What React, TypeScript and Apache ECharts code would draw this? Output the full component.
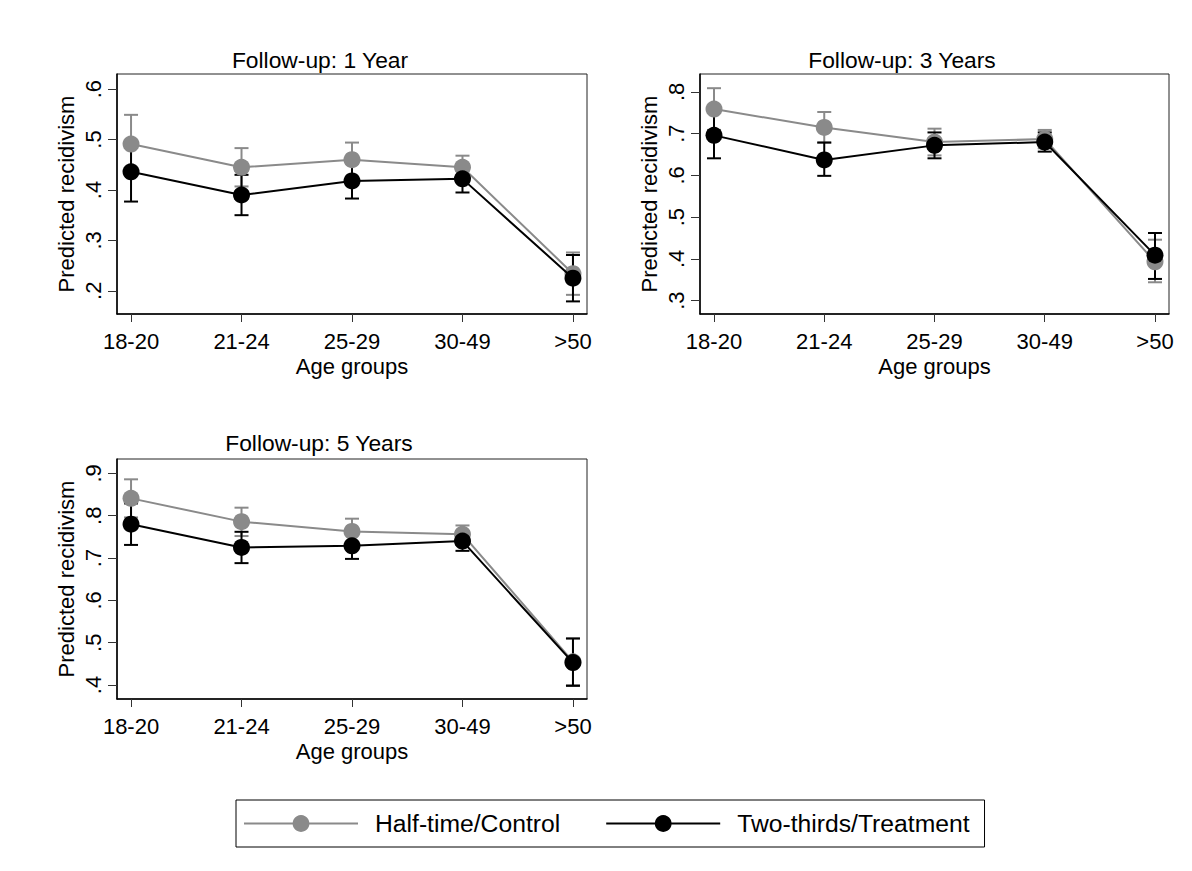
import React, { useEffect, useRef } from "react";
import * as echarts from "echarts";

const CATEGORIES = ["18-20", "21-24", "25-29", "30-49", ">50"];
const PANEL_TITLES = ["Follow-up: 1 Year", "Follow-up: 3 Years", "Follow-up: 5 Years"];
const SERIES_NAMES = ["Half-time/Control", "Two-thirds/Treatment"];

// Panel 1: 1 year
const Y1_TICKS = [0.2, 0.3, 0.4, 0.5, 0.6];
const P1_CONTROL = [0.491, 0.445, 0.46, 0.445, 0.234];
const P1_CONTROL_LO = [0.433, 0.407, 0.426, 0.422, 0.192];
const P1_CONTROL_HI = [0.549, 0.483, 0.494, 0.468, 0.276];
const P1_TREAT = [0.436, 0.39, 0.418, 0.422, 0.225];
const P1_TREAT_LO = [0.377, 0.35, 0.383, 0.395, 0.179];
const P1_TREAT_HI = [0.495, 0.43, 0.453, 0.449, 0.271];

// Panel 2: 3 years
const Y2_TICKS = [0.3, 0.4, 0.5, 0.6, 0.7, 0.8];
const P2_CONTROL = [0.759, 0.715, 0.68, 0.687, 0.393];
const P2_CONTROL_LO = [0.709, 0.678, 0.648, 0.665, 0.344];
const P2_CONTROL_HI = [0.809, 0.752, 0.712, 0.709, 0.446];
const P2_TREAT = [0.696, 0.637, 0.672, 0.68, 0.409];
const P2_TREAT_LO = [0.641, 0.599, 0.641, 0.657, 0.352];
const P2_TREAT_HI = [0.751, 0.679, 0.703, 0.703, 0.462];

// Panel 3: 5 years
const Y3_TICKS = [0.4, 0.5, 0.6, 0.7, 0.8, 0.9];
const P3_CONTROL = [0.841, 0.786, 0.763, 0.756, 0.455];
const P3_CONTROL_LO = [0.796, 0.752, 0.733, 0.735, 0.4];
const P3_CONTROL_HI = [0.886, 0.819, 0.793, 0.777, 0.51];
const P3_TREAT = [0.78, 0.725, 0.729, 0.74, 0.453];
const P3_TREAT_LO = [0.731, 0.688, 0.698, 0.717, 0.398];
const P3_TREAT_HI = [0.829, 0.762, 0.76, 0.763, 0.51];

const FONT = "'Liberation Sans', Arial, Helvetica, sans-serif";
const GRAY = "#8a8a8a";
const BLACK = "#000000";

const PANELS = [
  {
    ticks: Y1_TICKS, yMin: 0.154, yMax: 0.63,
    control: [P1_CONTROL, P1_CONTROL_LO, P1_CONTROL_HI],
    treat: [P1_TREAT, P1_TREAT_LO, P1_TREAT_HI],
    grid: { left: 117, top: 74, width: 470, height: 240 },
    titleX: 320, titleY: 48,
  },
  {
    ticks: Y2_TICKS, yMin: 0.268, yMax: 0.843,
    control: [P2_CONTROL, P2_CONTROL_LO, P2_CONTROL_HI],
    treat: [P2_TREAT, P2_TREAT_LO, P2_TREAT_HI],
    grid: { left: 700, top: 74, width: 469, height: 240 },
    titleX: 902, titleY: 48,
  },
  {
    ticks: Y3_TICKS, yMin: 0.367, yMax: 0.934,
    control: [P3_CONTROL, P3_CONTROL_LO, P3_CONTROL_HI],
    treat: [P3_TREAT, P3_TREAT_LO, P3_TREAT_HI],
    grid: { left: 117, top: 459, width: 470, height: 240 },
    titleX: 319, titleY: 431,
  },
];

function errorBarRender(color: string) {
  return (params: any, api: any) => {
    const x = api.value(0);
    const lo = api.coord([x, api.value(1)]);
    const hi = api.coord([x, api.value(2)]);
    const half = 7;
    const style = { stroke: color, lineWidth: 2 };
    return {
      type: "group",
      children: [
        { type: "line", shape: { x1: lo[0], y1: lo[1], x2: hi[0], y2: hi[1] }, style },
        { type: "line", shape: { x1: lo[0] - half, y1: lo[1], x2: lo[0] + half, y2: lo[1] }, style },
        { type: "line", shape: { x1: hi[0] - half, y1: hi[1], x2: hi[0] + half, y2: hi[1] }, style },
      ],
    };
  };
}

export default function App() {
  const ref = useRef<HTMLDivElement>(null);

  useEffect(() => {
    if (!ref.current) return;
    const chart = echarts.init(ref.current, undefined, { renderer: "svg" });

    const grids: any[] = [];
    const xAxes: any[] = [];
    const yAxes: any[] = [];
    const series: any[] = [];
    const titles: any[] = [];
    const catIdx = CATEGORIES.map((_, i) => i);

    PANELS.forEach((p, k) => {
      grids.push({
        ...p.grid,
        show: true,
        borderColor: "#222",
        borderWidth: 1,
        backgroundColor: "#fff",
      });
      xAxes.push({
        type: "value",
        gridIndex: k,
        min: -0.127,
        max: 4.127,
        name: "Age groups",
        nameLocation: "middle",
        nameGap: 41,
        nameTextStyle: { fontFamily: FONT, fontSize: 22, color: "#000", verticalAlign: "top" },
        axisLine: { show: true, onZero: false, lineStyle: { color: "#000", width: 1.5 } },
        axisTick: { show: true, length: 8, customValues: catIdx, lineStyle: { color: "#333", width: 1 } },
        axisLabel: {
          show: true,
          customValues: catIdx,
          formatter: (v: number) => CATEGORIES[Math.round(v)],
          margin: 16,
          fontFamily: FONT,
          fontSize: 22,
          color: "#000",
        },
        splitLine: { show: false },
      });
      yAxes.push({
        type: "value",
        gridIndex: k,
        min: p.yMin,
        max: p.yMax,
        name: "Predicted recidivism",
        nameLocation: "middle",
        nameGap: 40,
        nameRotate: 90,
        nameTextStyle: { fontFamily: FONT, fontSize: 22, color: "#000" },
        axisLine: { show: true, onZero: false, lineStyle: { color: "#000", width: 1.5 } },
        axisTick: { show: true, length: 9, customValues: p.ticks, lineStyle: { color: "#333", width: 1 } },
        axisLabel: {
          show: true,
          customValues: p.ticks,
          rotate: 90,
          margin: 13,
          formatter: (v: number) => v.toFixed(1).replace(/^0/, ""),
          fontFamily: FONT,
          fontSize: 22,
          color: "#000",
        },
        splitLine: { show: false },
      });
      titles.push({
        text: PANEL_TITLES[k],
        left: p.titleX,
        top: p.titleY,
        textAlign: "center",
        padding: 0,
        textStyle: { fontFamily: FONT, fontSize: 22.8, fontWeight: "normal", color: "#000" },
      });

      const groups = [
        { name: SERIES_NAMES[0], color: GRAY, d: p.control, z: 3 },
        { name: SERIES_NAMES[1], color: BLACK, d: p.treat, z: 4 },
      ];
      groups.forEach((g) => {
        series.push({
          type: "custom",
          name: g.name + " CI",
          xAxisIndex: k,
          yAxisIndex: k,
          z: 2,
          renderItem: errorBarRender(g.color),
          encode: { x: 0, y: [1, 2] },
          data: catIdx.map((i) => [i, g.d[1][i], g.d[2][i]]),
          silent: true,
        });
      });
      groups.forEach((g) => {
        series.push({
          type: "line",
          name: g.name,
          xAxisIndex: k,
          yAxisIndex: k,
          z: g.z,
          symbol: "circle",
          symbolSize: 17,
          itemStyle: { color: g.color },
          lineStyle: { color: g.color, width: 2 },
          data: catIdx.map((i) => [i, g.d[0][i]]),
        });
      });
    });

    chart.setOption({
      animation: false,
      backgroundColor: "#fff",
      title: titles,
      grid: grids,
      xAxis: xAxes,
      yAxis: yAxes,
      series,
      legend: {
        data: SERIES_NAMES,
        left: 236,
        top: 800,
        orient: "horizontal",
        padding: [11, 15, 11, 7],
        itemGap: 45,
        itemWidth: 114,
        itemHeight: 21,
        borderColor: "#000",
        borderWidth: 1,
        backgroundColor: "#fff",
        textStyle: { fontFamily: FONT, fontSize: 24.7, color: "#000", padding: [0, 0, 0, 12] },
        selectedMode: false,
      },
    });

    return () => chart.dispose();
  }, []);

  return (
    <div
      ref={ref}
      style={{ position: "absolute", left: 0, top: 0, width: 1192, height: 871, background: "#fff" }}
    />
  );
}
